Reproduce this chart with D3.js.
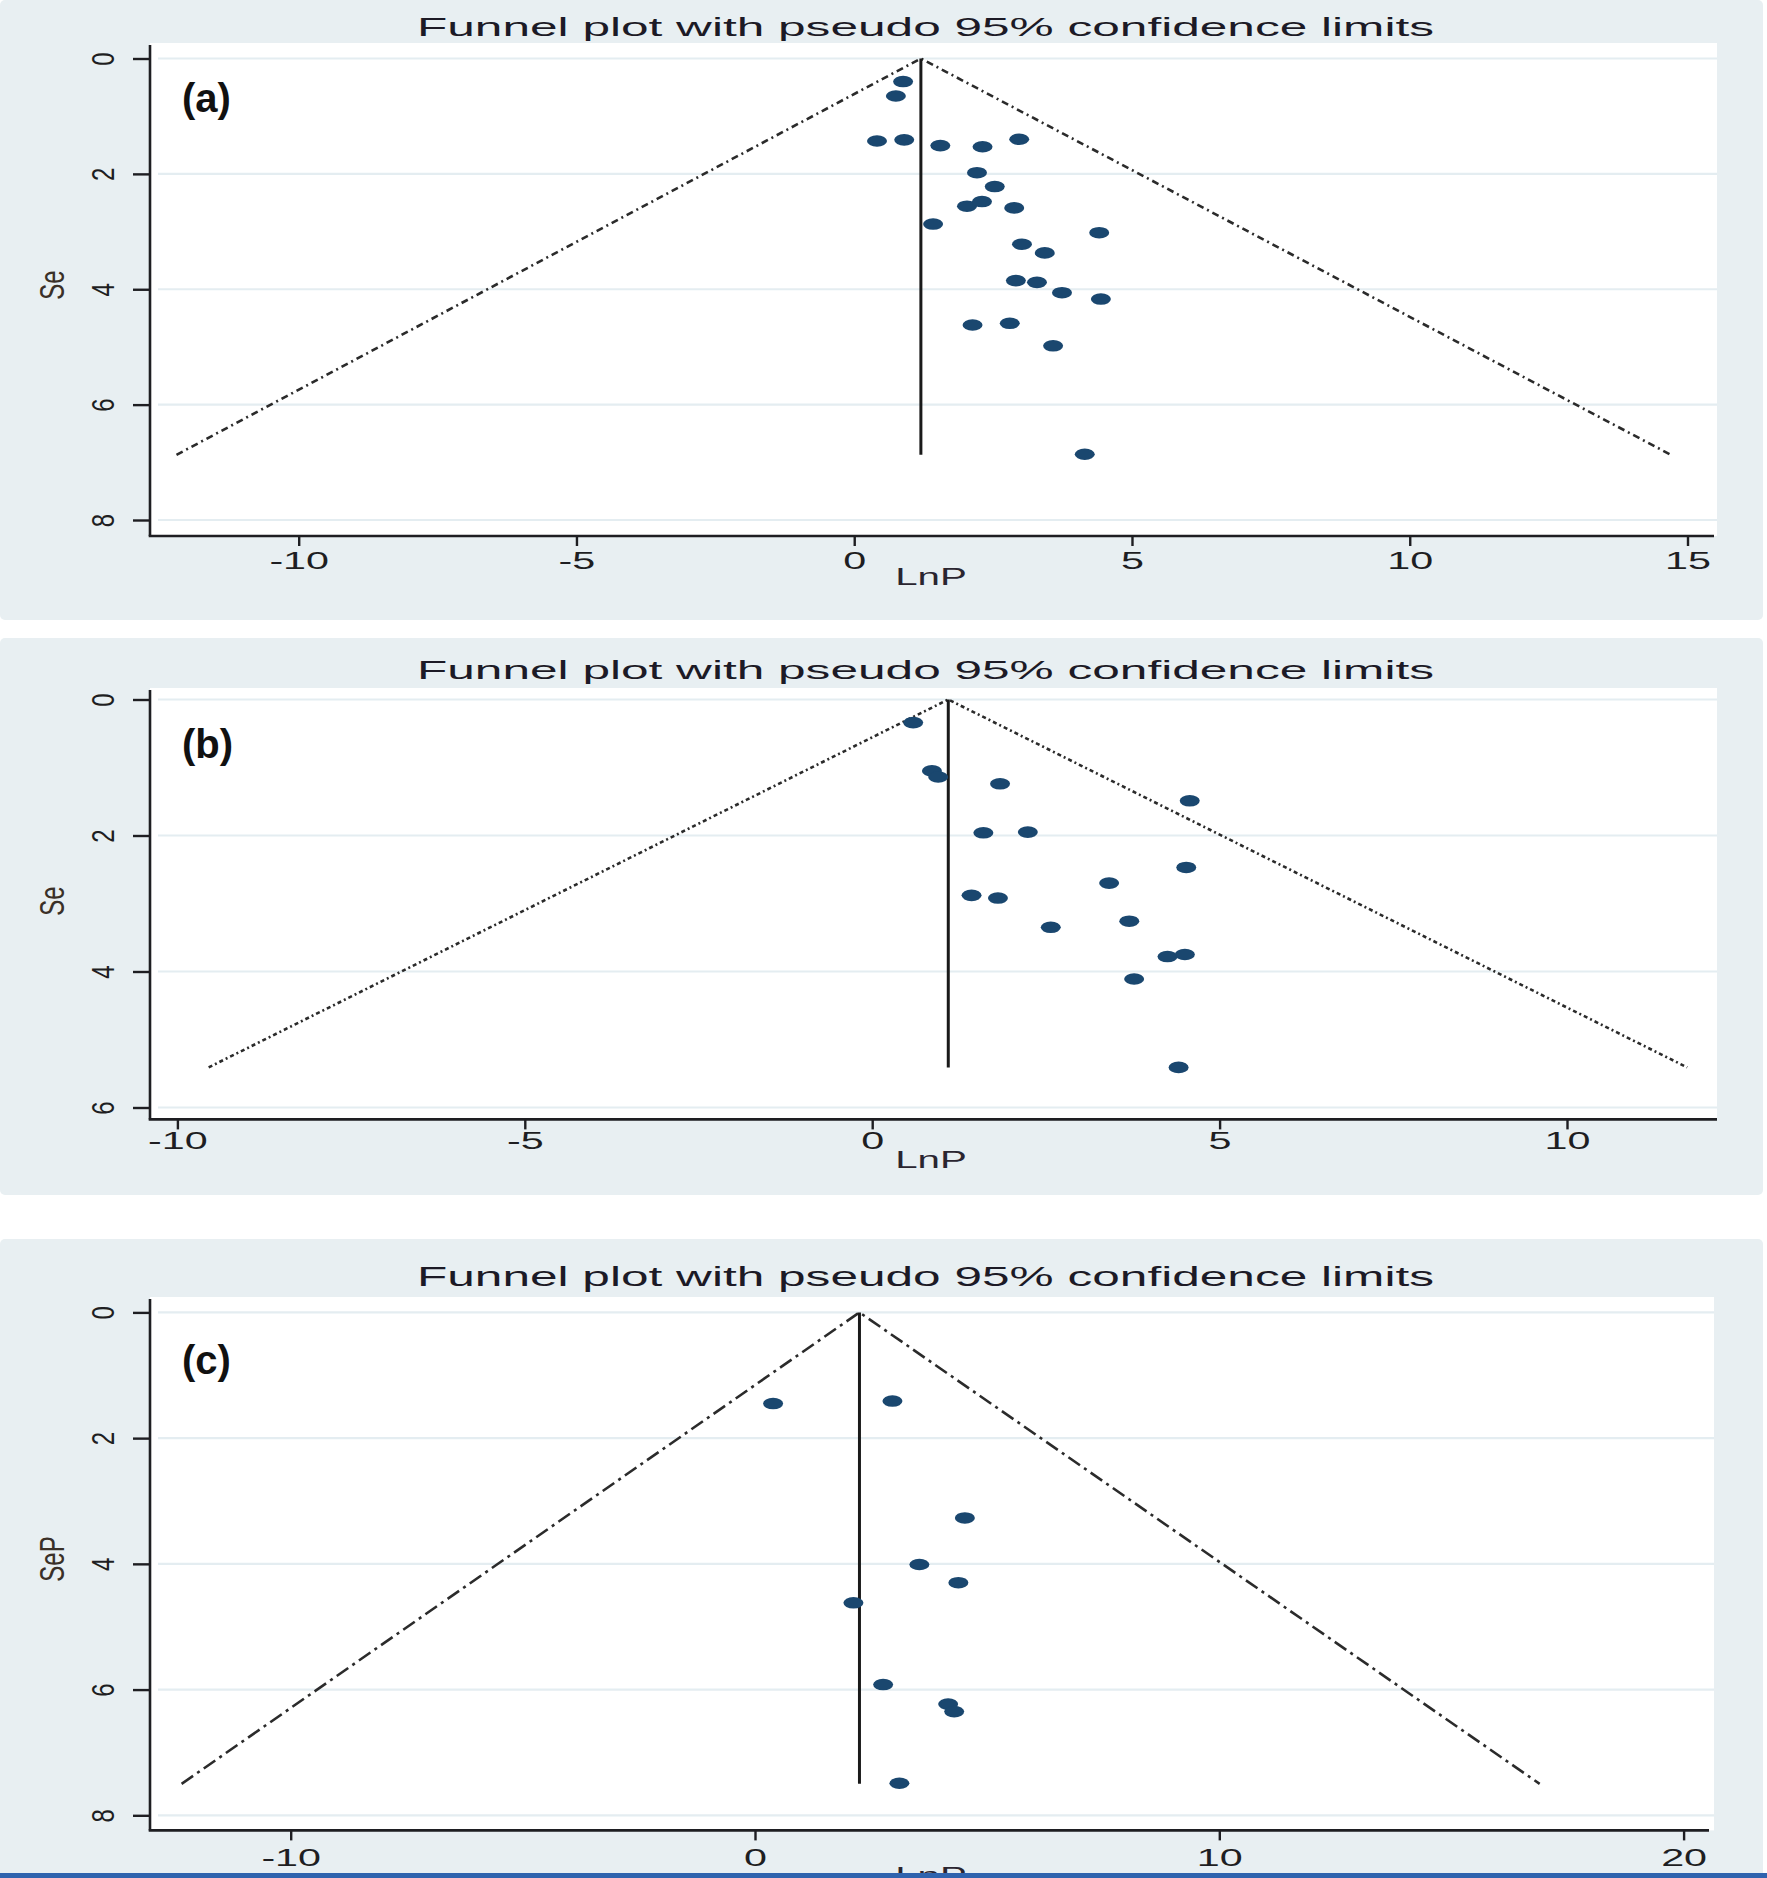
<!DOCTYPE html>
<html><head><meta charset="utf-8">
<script src="https://cdn.jsdelivr.net/npm/d3@7"></script>
<style>html,body{margin:0;padding:0;background:#fff;} svg{display:block;}</style>
</head><body>
<script>
// ---------------- DATA ----------------
const titleText = "Funnel plot with pseudo 95% confidence limits";
const xTitle = "LnP";
const panelLabels = ["(a)", "(b)", "(c)"];
const yTitles = ["Se", "Se", "SeP"];

const xTicksA = [-10, -5, 0, 5, 10, 15];
const yTicksA = [0, 2, 4, 6, 8];
const xTicksB = [-10, -5, 0, 5, 10];
const yTicksB = [0, 2, 4, 6];
const xTicksC = [-10, 0, 10, 20];
const yTicksC = [0, 2, 4, 6, 8];

// panel (a) studies: LnP and its standard error
const lnPA = [0.88, 0.75, 0.41, 0.90, 1.55, 2.31, 2.97, 2.21, 2.53, 2.03, 2.30, 2.88,
              1.42, 4.41, 3.02, 3.43, 2.91, 3.29, 3.74, 4.44, 2.13, 2.80, 3.58, 4.15];
const seA  = [0.40, 0.65, 1.43, 1.41, 1.51, 1.53, 1.40, 1.98, 2.22, 2.56, 2.48, 2.59,
              2.87, 3.02, 3.22, 3.37, 3.85, 3.88, 4.06, 4.17, 4.62, 4.59, 4.98, 6.86];
// panel (b)
const lnPB = [0.59, 0.86, 0.95, 1.84, 4.57, 1.60, 2.24, 4.52, 3.41, 1.43, 1.81, 2.57,
              3.70, 4.25, 4.50, 3.77, 4.41];
const seB  = [0.34, 1.05, 1.14, 1.24, 1.49, 1.96, 1.95, 2.47, 2.70, 2.88, 2.92, 3.35,
              3.26, 3.78, 3.75, 4.11, 5.41];
// panel (c)
const lnPC = [0.39, 2.96, 4.52, 3.54, 4.38, 2.12, 2.76, 4.16, 4.29, 3.11];
const seC  = [1.45, 1.41, 3.27, 4.01, 4.30, 4.62, 5.92, 6.23, 6.35, 7.49];

// pooled estimate, largest SE, pseudo 95% limits at largest SE
const pooled = [1.20, 1.095, 2.25];
const seMax  = [6.87, 5.41, 7.50];
const ciLow  = [-12.2, -9.55, -12.35];
const ciHigh = [14.7, 11.73, 16.9];

// ---------------- LAYOUT ----------------
const W = 1767, H = 1878;
const BG = "#e8eff2", NAVY = "#1a476f", INK = "#1e1e22";
const FONT = "'Liberation Sans', Arial, sans-serif";

const panels = [
  { label: panelLabels[0], yTitle: yTitles[0], xTicks: xTicksA, yTicks: yTicksA, x: lnPA, y: seA,
    bg: [0, 620], plot: [150, 1717, 43, 536], axisEnd: 1714,
    xDom: [-10, 15], xRng: [298.7, 1687.5], yDom: [0, 8], yRng: [58.5, 520],
    titleY: 35.5, titleSize: 25, xLabY: 33.5, lnpY: 585, yTitleY: 285, labelY: 111.5,
    dash: "7,4,2,4", i: 0 },
  { label: panelLabels[1], yTitle: yTitles[1], xTicks: xTicksB, yTicks: yTicksB, x: lnPB, y: seB,
    bg: [638, 1195], plot: [150, 1717, 688, 1119.4], axisEnd: 1717,
    xDom: [-10, 10], xRng: [177.4, 1567.0], yDom: [0, 6], yRng: [699.5, 1107.5],
    titleY: 679, titleSize: 25, xLabY: 30, lnpY: 1167.5, yTitleY: 901, labelY: 757.5,
    dash: "4,3,2,3", i: 1 },
  { label: panelLabels[2], yTitle: yTitles[2], xTicks: xTicksC, yTicks: yTicksC, x: lnPC, y: seC,
    bg: [1239, 1878], plot: [150, 1714, 1297, 1830.4], axisEnd: 1709,
    xDom: [-10, 20], xRng: [290.7, 1683.6], yDom: [0, 8], yRng: [1312.4, 1815.3],
    titleY: 1286, titleSize: 27, xLabY: 36, lnpY: 1884, yTitleY: 1559, labelY: 1373.5,
    dash: "14,5,3,5", i: 2 }
];

const svg = d3.select("body").append("svg")
  .attr("width", W).attr("height", H).attr("viewBox", `0 0 ${W} ${H}`);
svg.append("rect").attr("width", W).attr("height", H).attr("fill", "#fff");

panels.forEach(p => {
  const g = svg.append("g");
  const [L, R, T, B] = p.plot;
  const x = d3.scaleLinear().domain(p.xDom).range(p.xRng);
  const y = d3.scaleLinear().domain(p.yDom).range(p.yRng);

  // backgrounds
  g.append("rect").attr("x", 0).attr("y", p.bg[0]).attr("width", 1763)
    .attr("height", p.bg[1] - p.bg[0]).attr("rx", 5).attr("fill", BG);
  g.append("rect").attr("x", L).attr("y", T).attr("width", R - L).attr("height", B - T)
    .attr("fill", "#fff");

  // gridlines
  g.selectAll(".grid").data(p.yTicks).join("line")
    .attr("x1", L + 8).attr("x2", R)
    .attr("y1", d => y(d)).attr("y2", d => y(d))
    .attr("stroke", "#e4edf1").attr("stroke-width", 2.2);

  // title
  g.append("text").attr("x", 925.5).attr("y", p.titleY)
    .attr("text-anchor", "middle").attr("font-family", FONT).attr("font-size", p.titleSize)
    .attr("textLength", 1017).attr("lengthAdjust", "spacingAndGlyphs")
    .attr("fill", "#1c1a26").text(titleText);

  // funnel (pseudo 95% limits)
  const funnel = [[ciLow[p.i], seMax[p.i]], [pooled[p.i], 0], [ciHigh[p.i], seMax[p.i]]];
  g.append("path")
    .attr("d", d3.line().x(d => x(d[0])).y(d => y(d[1]))(funnel))
    .attr("fill", "none").attr("stroke", "#2b2b2b").attr("stroke-width", 2.6)
    .attr("stroke-dasharray", p.dash);

  // pooled estimate line
  g.append("line")
    .attr("x1", x(pooled[p.i])).attr("x2", x(pooled[p.i]))
    .attr("y1", y(0)).attr("y2", y(seMax[p.i]))
    .attr("stroke", "#1a1a1a").attr("stroke-width", 3);

  // points
  g.selectAll(".pt").data(p.x.map((v, k) => [v, p.y[k]])).join("ellipse")
    .attr("cx", d => x(d[0])).attr("cy", d => y(d[1]))
    .attr("rx", 10).attr("ry", 5.8).attr("fill", NAVY);

  // axes lines
  g.append("line").attr("x1", L).attr("x2", L).attr("y1", T + 2).attr("y2", B)
    .attr("stroke", INK).attr("stroke-width", 2.6);
  g.append("line").attr("x1", L - 1.3).attr("x2", p.axisEnd).attr("y1", B).attr("y2", B)
    .attr("stroke", INK).attr("stroke-width", 2.6);

  // x axis ticks + labels
  const xa = g.append("g").attr("transform", `translate(0,${B})`)
    .call(d3.axisBottom(x).tickValues(p.xTicks).tickSize(10).tickFormat(d => String(d)));
  xa.select(".domain").remove();
  xa.selectAll(".tick line").attr("stroke", INK).attr("stroke-width", 2.4);
  xa.selectAll(".tick text")
    .attr("y", p.xLabY).attr("dy", null)
    .attr("transform", "scale(1.72,1)")
    .attr("font-family", FONT).attr("font-size", 24).attr("fill", INK);

  // y axis ticks + labels (vertical)
  const ya = g.append("g").attr("transform", `translate(${L},0)`)
    .call(d3.axisLeft(y).tickValues(p.yTicks).tickSize(17).tickFormat(d => String(d)));
  ya.select(".domain").remove();
  ya.selectAll(".tick line").attr("stroke", INK).attr("stroke-width", 2.4);
  ya.selectAll(".tick text")
    .attr("x", 0).attr("dy", null).attr("text-anchor", "middle")
    .attr("dominant-baseline", "central")
    .attr("transform", "translate(-47,0) scale(1.3,1) rotate(-90)")
    .attr("font-family", FONT).attr("font-size", 24).attr("fill", INK);

  // axis titles
  g.append("text").attr("transform", `translate(931,${p.lnpY}) scale(1.75,1)`)
    .attr("text-anchor", "middle").attr("font-family", FONT).attr("font-size", 23)
    .attr("fill", "#2a2530").text(xTitle);
  g.append("text").attr("transform", `translate(52,${p.yTitleY}) scale(1.45,1) rotate(-90)`)
    .attr("text-anchor", "middle").attr("dominant-baseline", "central")
    .attr("font-family", FONT).attr("font-size", 24).attr("fill", "#3a3028").text(p.yTitle);

  // panel label
  g.append("text").attr("x", 182).attr("y", p.labelY)
    .attr("font-family", FONT).attr("font-weight", "bold").attr("font-size", 40)
    .attr("fill", "#111").text(p.label);
});

// bottom blue rule
svg.append("rect").attr("x", 0).attr("y", 1873).attr("width", W).attr("height", 5)
  .attr("fill", "#2f63ae");
</script>
</body></html>
